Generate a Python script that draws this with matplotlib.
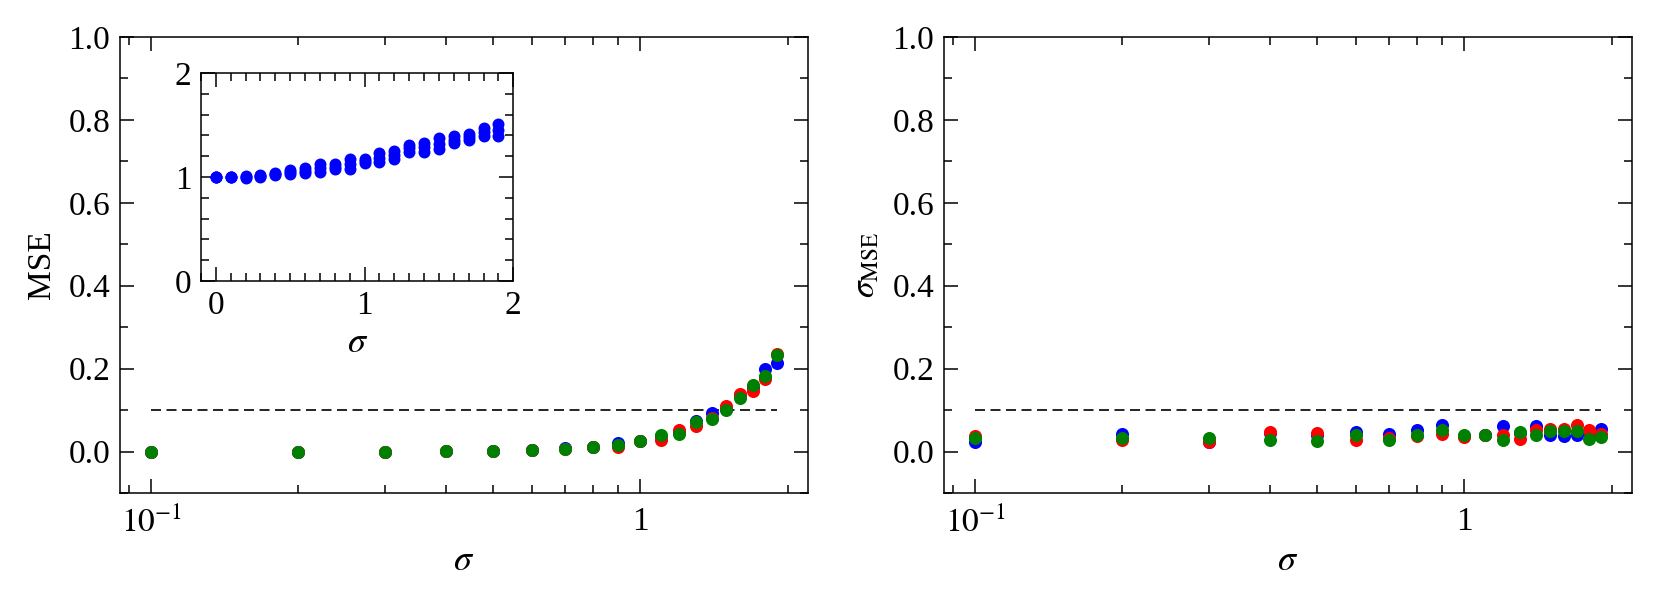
import matplotlib
matplotlib.use("Agg")
import matplotlib.pyplot as plt
import matplotlib.ticker as mticker


SIGMA = [0.1, 0.2, 0.3, 0.4, 0.5, 0.6, 0.7, 0.8, 0.9, 1.0,
         1.1, 1.2, 1.3, 1.4, 1.5, 1.6, 1.7, 1.8, 1.9]

MSE_BLUE = [0.0, 0.0, 0.0, 0.002, 0.002, 0.004, 0.008, 0.011, 0.020, 0.026,
            0.038, 0.047, 0.073, 0.092, 0.102, 0.136, 0.155, 0.200, 0.214]
MSE_RED = [0.0, 0.0, 0.0, 0.002, 0.002, 0.004, 0.006, 0.011, 0.012, 0.025,
           0.029, 0.053, 0.061, 0.082, 0.110, 0.140, 0.147, 0.176, 0.236]
MSE_GREEN = [0.0, 0.0, 0.0, 0.002, 0.002, 0.004, 0.006, 0.011, 0.016, 0.026,
             0.040, 0.043, 0.071, 0.078, 0.100, 0.130, 0.160, 0.182, 0.233]

STD_BLUE = [0.024, 0.043, 0.024, 0.045, 0.040, 0.047, 0.043, 0.051, 0.065, 0.037,
            0.040, 0.061, 0.045, 0.061, 0.041, 0.038, 0.041, 0.045, 0.055]
STD_RED = [0.038, 0.027, 0.022, 0.047, 0.045, 0.029, 0.033, 0.037, 0.043, 0.035,
           0.040, 0.041, 0.031, 0.051, 0.055, 0.055, 0.065, 0.051, 0.043]
STD_GREEN = [0.033, 0.033, 0.033, 0.029, 0.026, 0.041, 0.027, 0.041, 0.051, 0.039,
             0.040, 0.027, 0.047, 0.041, 0.049, 0.049, 0.049, 0.030, 0.034]

INSET_SIGMA = [0.0, 0.1, 0.2, 0.3, 0.4, 0.5, 0.6, 0.7, 0.8, 0.9,
               1.0, 1.1, 1.2, 1.3, 1.4, 1.5, 1.6, 1.7, 1.8, 1.9]
INSET_LOW = [1.0, 1.0, 0.995, 1.0, 1.02, 1.03, 1.04, 1.05, 1.075, 1.08,
             1.133, 1.14, 1.17, 1.24, 1.24, 1.27, 1.33, 1.36, 1.39, 1.39]
INSET_MID = [1.0, 1.0, 1.0, 1.01, 1.03, 1.05, 1.06, 1.085, 1.10, 1.125,
             1.15, 1.185, 1.21, 1.275, 1.285, 1.32, 1.36, 1.385, 1.43, 1.45]
INSET_HIGH = [1.0, 1.0, 1.005, 1.02, 1.04, 1.07, 1.085, 1.12, 1.123, 1.17,
              1.17, 1.23, 1.25, 1.31, 1.33, 1.37, 1.39, 1.41, 1.47, 1.51]

THRESHOLD = 0.1

plt.rcParams.update({
    "font.family": "serif",
    "font.serif": ["Liberation Serif", "DejaVu Serif"],
    "mathtext.fontset": "stix",
    "font.size": 12,
    "axes.linewidth": 0.55,
    "xtick.direction": "in",
    "ytick.direction": "in",
    "xtick.top": True,
    "ytick.right": True,
    "xtick.minor.visible": True,
    "ytick.minor.visible": True,
    "xtick.major.size": 5,
    "ytick.major.size": 5,
    "xtick.minor.size": 3,
    "ytick.minor.size": 3,
    "xtick.major.width": 0.55,
    "ytick.major.width": 0.55,
    "xtick.minor.width": 0.55,
    "ytick.minor.width": 0.55,
})

MS = 4.7


def style_main(ax, ylabel):
    ax.set_xscale("log")
    ax.set_ylim(-0.1, 1.0)
    ax.yaxis.set_major_locator(mticker.MultipleLocator(0.2))
    ax.yaxis.set_minor_locator(mticker.MultipleLocator(0.1))
    ax.yaxis.set_major_formatter(mticker.FormatStrFormatter("%.1f"))
    ax.set_xticks([0.1, 1.0])
    ax.set_xticklabels([r"$10^{-1}$", "1"])
    ax.xaxis.set_minor_formatter(mticker.NullFormatter())
    ax.tick_params(axis="x", which="major", pad=5)
    ax.set_xlabel(r"$\sigma$", fontsize=13, labelpad=2)
    ax.set_ylabel(ylabel, fontsize=12)


def draw_points(ax, x, series, ms):
    for y, c in series:
        ax.plot(x, y, "o", color=c, ms=ms, mew=0, linestyle="none")


fig = plt.figure(figsize=(8.305, 3.015), dpi=200)
ax1 = fig.add_axes([0.0722, 0.1824, 0.4142, 0.7562])
ax2 = fig.add_axes([0.5683, 0.1824, 0.4142, 0.7562])

for ax, data, ylabel in [
    (ax1, [(MSE_BLUE, "blue"), (MSE_RED, "red"), (MSE_GREEN, "green")], "MSE"),
    (ax2, [(STD_BLUE, "blue"), (STD_RED, "red"), (STD_GREEN, "green")], r"$\sigma_{\mathrm{MSE}}$"),
]:
    ax.hlines(THRESHOLD, SIGMA[0], SIGMA[-1], colors="k",
              linestyles=(0, (6, 3.3)), linewidth=0.6)
    draw_points(ax, SIGMA, data, MS)
    style_main(ax, ylabel)

# inset
axin = fig.add_axes([0.121, 0.534, 0.188, 0.345])
draw_points(axin, INSET_SIGMA,
            [(INSET_LOW, "blue"), (INSET_MID, "blue"), (INSET_HIGH, "blue")], 4.3)
axin.set_xlim(-0.1, 2.0)
axin.set_ylim(0, 2)
axin.xaxis.set_major_locator(mticker.MultipleLocator(1))
axin.xaxis.set_minor_locator(mticker.MultipleLocator(0.1))
axin.yaxis.set_major_locator(mticker.MultipleLocator(1))
axin.yaxis.set_minor_locator(mticker.MultipleLocator(0.2))
axin.set_xlabel(r"$\sigma$", fontsize=13, labelpad=2)

fig.savefig("out.png", dpi=200)
